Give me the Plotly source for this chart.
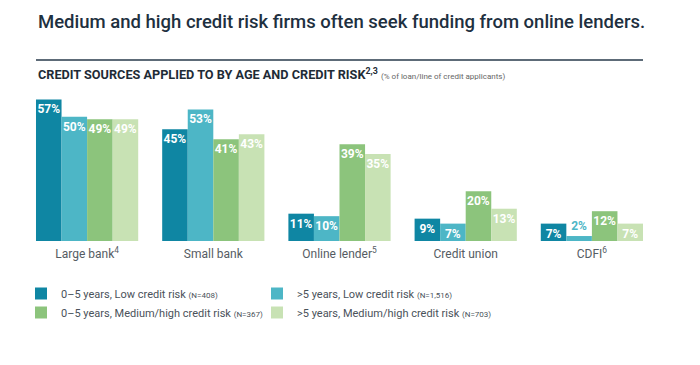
import plotly.graph_objects as go

categories = ["Large bank<sup>4</sup>", "Small bank", "Online lender<sup>5</sup>", "Credit union", "CDFI<sup>6</sup>"]
series_names = [
    "0–5 years, Low credit risk <span style='font-size:8px'>(N=408)</span>",
    ">5 years, Low credit risk <span style='font-size:8px'>(N=1,516)</span>",
    "0–5 years, Medium/high credit risk <span style='font-size:8px'>(N=367)</span>",
    ">5 years, Medium/high credit risk <span style='font-size:8px'>(N=703)</span>",
]
young_low = [57, 45, 11, 9, 7]
old_low = [50, 53, 10, 7, 2]
young_med = [49, 41, 39, 20, 12]
old_med = [49, 43, 35, 13, 7]
colors = ["#0f86a3", "#4db6c6", "#8cc47c", "#c8e2b4"]

series = [young_low, old_low, young_med, old_med]

O = 8  # page body margin
W, H = 700, 365
L, R, T = 24 - O, 45 + O, 92 - O
B = H - (241 - O)
PW, PH = W - L - R, H - T - B

def px(x):
    return (x - O - L) / PW

def py(y):
    return (H - B - (y - O)) / PH

fig = go.Figure()
for name, vals, col in zip(series_names, series, colors):
    pos = ["outside" if v < 5 else "inside" for v in vals]
    fig.add_trace(go.Bar(
        x=categories, y=vals, name=name,
        marker=dict(color=col, line=dict(width=0)),
        text=[f"{v}%" for v in vals],
        textposition=pos,
        textangle=0,
        insidetextanchor="end",
        constraintext="none",
        insidetextfont=dict(color="white", size=12, family="Roboto", weight="bold"),
        outsidetextfont=dict(color=col, size=12, family="Roboto", weight="bold"),
        cliponaxis=False,
        hoverinfo="skip",
    ))

fig.update_layout(
    width=W, height=H,
    margin=dict(l=L, r=R, t=T, b=B, autoexpand=False),
    paper_bgcolor="white", plot_bgcolor="white",
    barmode="group", bargap=0.19, bargroupgap=0,
    font=dict(family="Roboto", color="#555c63"),
    showlegend=True,
    legend=dict(
        orientation="h", x=px(21), y=py(279), xanchor="left", yanchor="top",
        entrywidth=191, entrywidthmode="pixels",
        font=dict(size=11, color="#4a525a", family="Roboto"),
        itemwidth=30, tracegroupgap=0, traceorder="normal",
    ),
    xaxis=dict(showline=False, showgrid=False, zeroline=False, ticks="",
               automargin=False, ticklabelstandoff=4,
               tickfont=dict(size=12, color="#555c63", family="Roboto")),
    yaxis=dict(range=[0, 60], visible=False, automargin=False),
)

fig.add_annotation(
    text="Medium and high credit risk firms often seek funding from online lenders.",
    xref="paper", yref="paper", x=px(36), y=py(22),
    xanchor="left", yanchor="middle", showarrow=False,
    font=dict(size=18.5, color="#1e3040", family="Roboto", weight=500),
)
fig.add_shape(type="line", xref="paper", yref="paper",
              x0=px(36), x1=px(643), y0=py(60), y1=py(60),
              line=dict(color="#5d6b78", width=2))
fig.add_annotation(
    text="<b>CREDIT SOURCES APPLIED TO BY AGE AND CREDIT RISK<sup>2,3</sup></b> "
         "<span style='font-size:8px;color:#666'>(% of loan/line of credit applicants)</span>",
    xref="paper", yref="paper", x=px(36), y=py(74),
    xanchor="left", yanchor="middle", showarrow=False,
    font=dict(size=12.7, color="#1e2b36", family="Roboto"),
)

fig.write_html("out.html")
